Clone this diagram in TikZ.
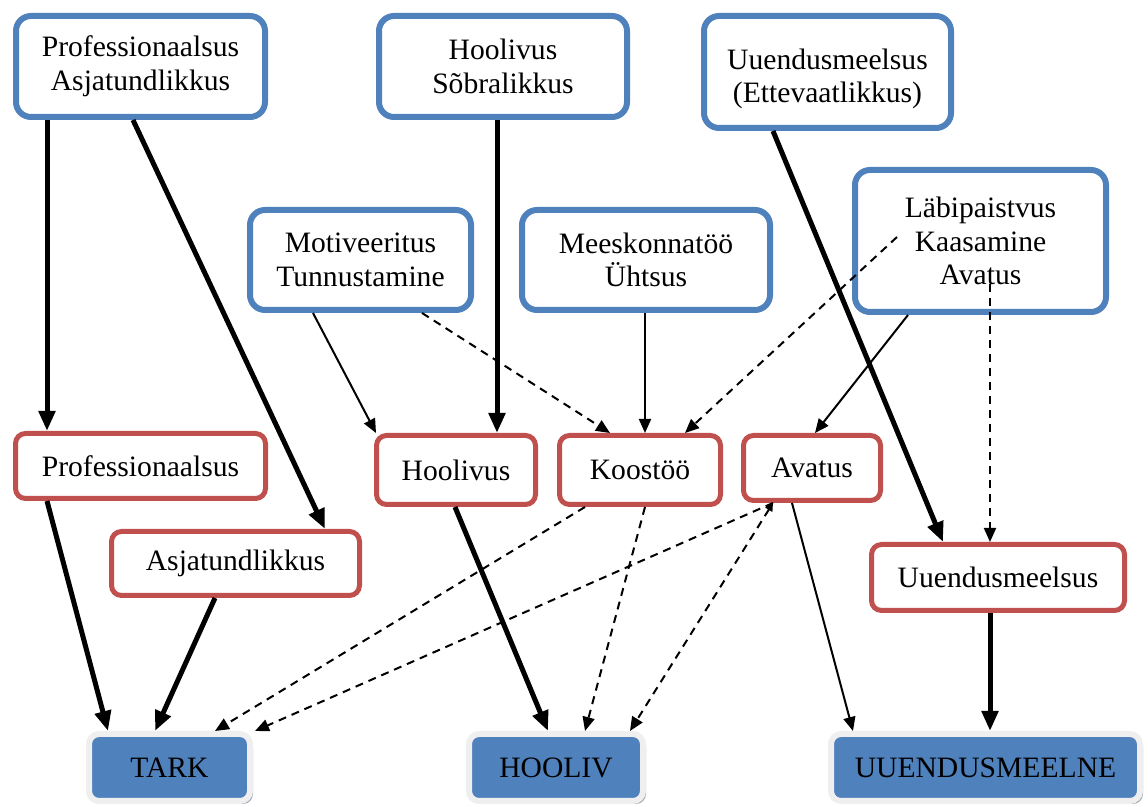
\documentclass[tikz,border=0pt]{standalone}
\usepackage{fontspec}
\setmainfont{Liberation Serif}
\usetikzlibrary{arrows.meta,shadows}
\definecolor{topblue}{HTML}{4F81BD}
\definecolor{midred}{HTML}{C0504D}
\definecolor{rimgray}{HTML}{EFEFEF}
\definecolor{shadegray}{HTML}{A3ACB9}
\tikzset{
  txt/.style={font=\fontsize{14.8}{16.8}\selectfont, align=center, text=black},
  valuebox/.style={txt, draw=topblue, line width=3pt, fill=white, rounded corners=7.5pt, inner sep=0pt},
  traitbox/.style={txt, draw=midred, line width=2.5pt, fill=white, rounded corners=5pt, inner sep=0pt},
  goalbox/.style={txt, draw=rimgray, line width=3pt, fill=topblue, rounded corners=5pt, inner sep=0pt,
    minimum height=33.5pt,
    drop shadow={shadow xshift=1.5pt, shadow yshift=-1.5pt, fill=shadegray, opacity=1}},
  heavy/.style={line width=2.5pt, -{Triangle[length=10pt,width=8pt]}},
  light/.style={line width=1pt, -{Triangle[length=7pt,width=6pt]}},
  weak/.style={line width=1pt, dash pattern=on 4pt off 3pt, -{Triangle[length=7pt,width=6pt]}},
}
\begin{document}
\begin{tikzpicture}[x=0.5pt,y=-0.5pt]
\useasboundingbox (0,0) rectangle (1148,807);

% upper row: values
\node[valuebox, minimum width=124.5pt, minimum height=50.5pt] (p1) at (140.5,66.5) {Professionaalsus\\Asjatundlikkus};
\node[valuebox, minimum width=124pt, minimum height=50.5pt] (h1) at (503,66.5) {Hoolivus\\Sõbralikkus};
\node[valuebox, minimum width=123.5pt, minimum height=56pt,
      label={[txt, yshift=-3.5pt]center:Uuendusmeelsus\\(Ettevaatlikkus)}] (u1) at (827.5,72) {};
\node[valuebox, minimum width=110.5pt, minimum height=50pt] (m1) at (360.5,260) {Motiveeritus\\Tunnustamine};
\node[valuebox, minimum width=124pt, minimum height=50pt] (k1) at (646,260) {Meeskonnatöö\\Ühtsus};
\node[valuebox, minimum width=125.5pt, minimum height=71pt] (l1) at (980.5,241) {Läbipaistvus\\Kaasamine\\Avatus};

% middle row: traits
\node[traitbox, minimum width=125pt, minimum height=32.5pt] (p2) at (140.5,466) {Professionaalsus};
\node[traitbox, minimum width=124pt, minimum height=32pt] (a2) at (235.5,563.5) {Asjatundlikkus};
\node[traitbox, minimum width=79.5pt, minimum height=34.5pt] (h2) at (456,470) {Hoolivus};
\node[traitbox, minimum width=80.5pt, minimum height=34.5pt] (k2) at (640,470) {Koostöö};
\node[traitbox, minimum width=68.5pt, minimum height=32.5pt] (av) at (812,468) {Avatus};
\node[traitbox, minimum width=126.5pt, minimum height=33pt] (u2) at (998,577.5) {Uuendusmeelsus};

% bottom row: goals
\node[goalbox, minimum width=80.5pt] (tark) at (169.5,767.5) {TARK};
\node[goalbox, minimum width=87pt] (hooliv) at (556,767.5) {HOOLIV};
\node[goalbox, minimum width=154.5pt] (uu) at (985.5,767.5) {UUENDUSMEELNE};

% strong links
\draw[heavy] ([xshift=-46.75pt]p1.south) -- ([xshift=-46.75pt]p2.north);
\draw[heavy] ([xshift=-3.75pt]p1.south) -- ([xshift=44.75pt]a2.north);
\draw[heavy] ([xshift=-46.75pt]p2.south) -- ([xshift=-30.75pt]tark.north);
\draw[heavy] ([xshift=-10.25pt]a2.south) -- ([xshift=-7.25pt]tark.north);
\draw[heavy] ([xshift=-3pt]h1.south) -- ([xshift=20.5pt]h2.north);
\draw[heavy] ([xshift=-0.5pt]h2.south) -- ([xshift=-4pt]hooliv.north);
\draw[heavy] ([xshift=-27.25pt]u1.south) -- ([xshift=-27.5pt]u2.north);
\draw[heavy] ([xshift=-4pt]u2.south) -- ([xshift=2.25pt]uu.north);

% plain links
\draw[light] ([xshift=-23.75pt]m1.south) -- ([xshift=1pt]h2.north west);
\draw[light] ([xshift=-0.5pt]k1.south) -- ([xshift=2.5pt]k2.north);
\draw[light] ([xshift=-36.25pt]l1.south) -- ([xshift=1.5pt]av.north);
\draw[light] ([xshift=-10pt]av.south) -- ([xshift=-66.25pt]uu.north);

% weak links
\draw[weak] ([xshift=30.75pt]m1.south) -- ([xshift=-15pt]k2.north);
\draw[weak] ([shift={(-41.75pt,2pt)}]l1.center) -- ([xshift=22.5pt]k2.north);
\draw[weak] ([shift={(4.75pt,-14.5pt)}]l1.center) -- ([xshift=-4pt]u2.north);
\draw[weak] ([xshift=-27.5pt]k2.south) -- ([xshift=22.75pt]tark.north);
\draw[weak] ([xshift=-19.5pt]av.south) -- ([xshift=1pt]tark.north east);
\draw[weak] ([xshift=2.5pt]k2.south) -- ([xshift=14.5pt]hooliv.north);
\draw[weak, {Triangle[length=4pt,width=4pt]}-{Triangle[length=7pt,width=6pt]}] ([xshift=-19.5pt]av.south) -- ([xshift=37pt]hooliv.north);
\end{tikzpicture}
\end{document}
